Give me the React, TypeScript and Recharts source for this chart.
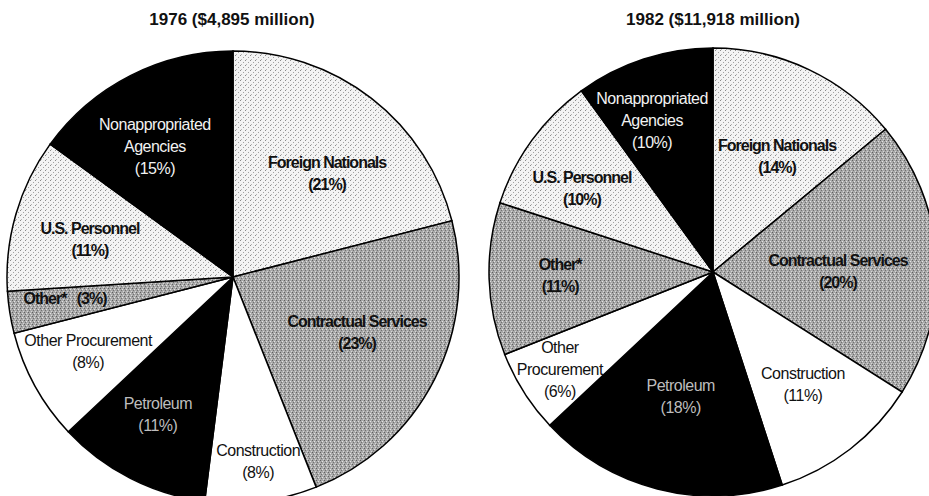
import { PieChart, Pie, Cell } from 'recharts'

const categories = [
  'Foreign Nationals',
  'Contractual Services',
  'Construction',
  'Petroleum',
  'Other Procurement',
  'Other*',
  'U.S. Personnel',
  'Nonappropriated Agencies',
]
const shares1976 = [21, 23, 8, 11, 8, 3, 11, 15]
const shares1982 = [14, 20, 11, 18, 6, 11, 10, 10]
const titles = ['1976 ($4,895 million)', '1982 ($11,918 million)']

// label text lines (name part) per year
const lines1976 = [
  ['Foreign Nationals'],
  ['Contractual Services'],
  ['Construction'],
  ['Petroleum'],
  ['Other Procurement'],
  [],
  ['U.S. Personnel'],
  ['Nonappropriated', 'Agencies'],
]
const lines1982 = [
  ['Foreign Nationals'],
  ['Contractual Services'],
  ['Construction'],
  ['Petroleum'],
  ['Other', 'Procurement'],
  ['Other*'],
  ['U.S. Personnel'],
  ['Nonappropriated', 'Agencies'],
]
// label placement: fraction of radius, and angle nudge (deg, clockwise)
const radius1976 = [0.614, 0.604, 0.83, 0.699, 0.724, 0.75, 0.653, 0.667]
const nudge1976 = [4.9, -2.3, -0.5, 1.4, 1.1, 1.2, -2.1, -4.2]
const radius1982 = [0.584, 0.558, 0.648, 0.58, 0.814, 0.683, 0.69, 0.723]
const nudge1982 = [4.1, 4.1, -0.5, 0, -0.5, 0, -4, -4.1]

const fills = ['url(#light)', 'url(#medium)', '#ffffff', '#000000', '#ffffff', 'url(#medium)', 'url(#light)', '#000000']
const textFill = ['#111', '#111', '#111', '#bdbdbd', '#111', '#111', '#111', '#f2f2f2']
const textBold = [true, true, false, false, false, true, true, false]

const toData = (vals: number[]) => categories.map((name, i) => ({ name, value: vals[i] }))

const FONT = '"Liberation Sans", Arial, Helvetica, sans-serif'
const RAD = Math.PI / 180

function makeLabel(lines: string[][], radii: number[], nudge: number[], oneLineIdx: number) {
  return (props: any) => {
    const { cx, cy, midAngle, outerRadius, index, value } = props
    const r = outerRadius * radii[index]
    const a = midAngle - nudge[index]
    const x = cx + r * Math.cos(-a * RAD)
    const y = cy + r * Math.sin(-a * RAD)
    let rows = [...lines[index], `(${value}%)`]
    if (index === oneLineIdx) rows = [`Other*\u00a0\u00a0\u00a0(${value}%)`]
    const lh = 22
    const y0 = y - ((rows.length - 1) * lh) / 2
    const bold = textBold[index]
    return (
      <text
        x={x}
        y={y0}
        textAnchor="middle"
        dominantBaseline="middle"
        fontFamily={FONT}
        fontSize={16}
        fontWeight={bold ? 700 : 400}
        letterSpacing={bold ? -1 : -0.5}
        fill={textFill[index]}
      >
        {rows.map((t, k) => (
          <tspan key={k} x={x} y={y0 + k * lh}>
            {t}
          </tspan>
        ))}
      </text>
    )
  }
}

export default function App() {
  return (
    <div style={{ position: 'absolute', left: 0, top: 0, width: 929, height: 496, background: '#fff', overflow: 'hidden' }}>
      {titles.map((t, i) => (
        <div
          key={t}
          style={{
            position: 'absolute',
            left: i === 0 ? 132 : 613,
            width: 200,
            top: 10,
            textAlign: 'center',
            fontFamily: FONT,
            fontWeight: 700,
            fontSize: 17,
            lineHeight: '20px',
            color: '#111',
          }}
        >
          {t}
        </div>
      ))}
      <PieChart
        width={929}
        height={496}
        margin={{ top: 0, right: 0, bottom: 0, left: 0 }}
        style={{ position: 'absolute', left: 0, top: 0 }}
      >
        <defs>
          <pattern id="light" width="5" height="5" patternUnits="userSpaceOnUse">
            <rect width="5" height="5" fill="#f3f3f3" />
            <rect x="0" y="0" width="1" height="1" fill="#8a8a8a" />
            <rect x="3" y="2" width="1" height="1" fill="#a0a0a0" />
            <rect x="1" y="4" width="1" height="1" fill="#b5b5b5" />
          </pattern>
          <pattern id="medium" width="4" height="4" patternUnits="userSpaceOnUse">
            <rect width="4" height="4" fill="#a8a8a8" />
            <rect x="0" y="0" width="1" height="1" fill="#606060" />
            <rect x="2" y="1" width="1" height="1" fill="#e4e4e4" />
            <rect x="1" y="2" width="1" height="1" fill="#707070" />
            <rect x="3" y="3" width="1" height="1" fill="#d6d6d6" />
          </pattern>
        </defs>
        <Pie
          data={toData(shares1976)}
          dataKey="value"
          nameKey="name"
          cx={233}
          cy={277}
          outerRadius={226}
          startAngle={90}
          endAngle={-270}
          stroke="#000"
          strokeWidth={1.5}
          labelLine={false}
          label={makeLabel(lines1976, radius1976, nudge1976, 5)}
          isAnimationActive={false}
        >
          {shares1976.map((_, i) => (
            <Cell key={i} fill={fills[i]} />
          ))}
        </Pie>
        <Pie
          data={toData(shares1982)}
          dataKey="value"
          nameKey="name"
          cx={713}
          cy={272}
          outerRadius={224}
          startAngle={90}
          endAngle={-270}
          stroke="#000"
          strokeWidth={1.5}
          labelLine={false}
          label={makeLabel(lines1982, radius1982, nudge1982, -1)}
          isAnimationActive={false}
        >
          {shares1982.map((_, i) => (
            <Cell key={i} fill={fills[i]} />
          ))}
        </Pie>
      </PieChart>
    </div>
  )
}
